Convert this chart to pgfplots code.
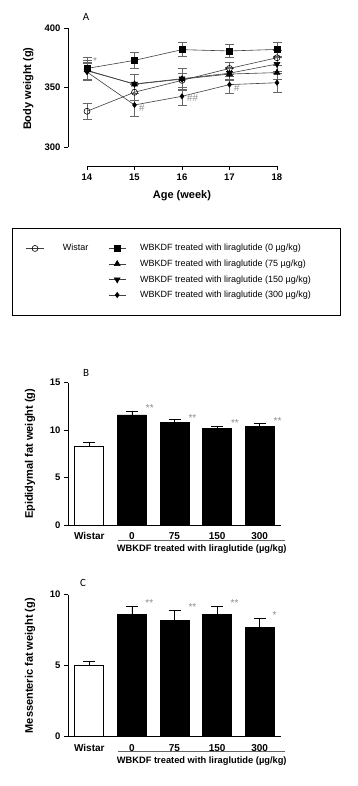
\documentclass[border=0pt]{standalone}
\usepackage{fontspec}
\setmainfont{Liberation Sans}
\newfontfamily\carlito{Carlito}
\usepackage{pgfplots}
\pgfplotsset{compat=1.18}
\definecolor{anno}{gray}{0.55}
\newcommand\lf{\fontsize{9}{10.5}\selectfont}
\begin{document}
\begin{tikzpicture}
\useasboundingbox (0,0) rectangle (357pt,-786pt);
\pgfplotsset{
 common/.style={scale only axis, axis lines*=left, tick align=outside, major tick length=4pt, clip=false,
   tick label style={font=\bfseries\fontsize{9.5}{11}\selectfont}, /pgf/number format/assume math mode=true,
   label style={font=\bfseries\fontsize{11}{13}\selectfont}, tick style={black, line width=0.8pt},
   axis line style={line width=0.9pt}},
 lineA/.style={black!75, line width=0.6pt, mark options={solid, black, fill=black},
   error bars/y dir=both, error bars/y explicit,
   error bars/error mark options={rotate=90, mark size=4.5pt, black!60, line width=0.6pt},
   error bars/error bar style={black!60, line width=0.6pt}},
 barW/.style={ybar, bar shift=0pt, bar width=29pt, fill=white, draw=black, line width=0.8pt,
   error bars/y dir=plus, error bars/y explicit,
   error bars/error mark options={rotate=90, mark size=6pt, line width=0.8pt, black},
   error bars/error bar style={line width=0.8pt, black}},
 barB/.style={ybar, bar shift=0pt, bar width=29pt, fill=black, draw=black, line width=0.8pt,
   error bars/y dir=plus, error bars/y explicit,
   error bars/error mark options={rotate=90, mark size=6pt, line width=0.8pt, black},
   error bars/error bar style={line width=0.8pt, black}},
 anno/.style={text=anno, font=\fontsize{8}{9}\selectfont},
 barax/.style={common, width=213pt, xmin=-0.5, xmax=4.5, xtick={0,...,4},
   xticklabels={Wistar,0,75,150,300}, major x tick style={draw=none},
   xticklabel style={font=\bfseries\fontsize{10}{12}\selectfont},
   ylabel style={at={(axis description cs:-0.178,0.5)}, anchor=center}},
}
% ---------------- Panel A
\begin{axis}[common, at={(68pt,-166pt)}, anchor=south west, width=209pt, height=138pt,
 xmin=13.6, xmax=18, ymin=284, ymax=400, xtick={14,...,18}, ytick={300,350,400},
 axis line style={draw=none}, xlabel={Age (week)}, ylabel={Body weight (g)},
 xlabel style={at={(axis description cs:0.545,-0.217)}, anchor=center},
 ylabel style={at={(axis description cs:-0.19,0.56)}, anchor=center},
 legend columns=2,
 legend style={draw=none, fill=none, at={(axis description cs:-0.201,-0.567)}, anchor=north west,
   inner xsep=0pt, inner ysep=0pt, font=\lf, row sep=7.5pt,
   nodes={inner sep=0pt},
   /tikz/column 1/.style={column sep=19pt}, /tikz/column 2/.style={column sep=20pt},
   /tikz/column 3/.style={column sep=14pt}},
 legend cell align=left]
\addplot[lineA, mark=o, mark size=3pt, mark options={solid, black, fill=white}] coordinates {(14,330)+-(0,6.5) (15,346)+-(0,6.5) (16,356)+-(0,6) (17,366)+-(0,5) (18,375)+-(0,6)};
\addlegendentry{\lf Wistar}
\addplot[lineA, mark=square*, mark size=3.1pt] coordinates {(14,366)+-(0,9) (15,372.8)+-(0,6.5) (16,381.8)+-(0,6) (17,380.7)+-(0,5.5) (18,382)+-(0,6)};
\addlegendentry{\lf WBKDF treated with liraglutide (0 µg/kg)}
\addlegendimage{empty legend}\addlegendentry{}
\addplot[lineA, mark=triangle*, mark size=3.4pt] coordinates {(14,364.5)+-(0,8) (15,352.7)+-(0,8) (16,357)+-(0,9) (17,361.3)+-(0,5) (18,362.5)+-(0,6)};
\addlegendentry{\lf WBKDF treated with liraglutide (75 µg/kg)}
\addlegendimage{empty legend}\addlegendentry{}
\addplot[lineA, mark=triangle*, mark size=3.4pt, mark options={solid, black, fill=black, rotate=180}] coordinates {(14,364)+-(0,7) (15,353)+-(0,8) (16,357.4)+-(0,9) (17,362)+-(0,5) (18,369.7)+-(0,6)};
\addlegendentry{\lf WBKDF treated with liraglutide (150 µg/kg)}
\addlegendimage{empty legend}\addlegendentry{}
\addplot[lineA, mark=diamond*, mark size=2.6pt] coordinates {(14,363)+-(0,7) (15,335.3)+-(0,9.5) (16,342.6)+-(0,7.7) (17,352.4)+-(0,7) (18,354)+-(0,7.7)};
\addlegendentry{\lf WBKDF treated with liraglutide (300 µg/kg)}
\draw[line width=0.9pt] (axis cs:13.6,300) -- (axis cs:13.6,400);
\draw[line width=0.9pt] (axis cs:14,284) -- (axis cs:18,284);
\node[anno] at (axis cs:14.17,372) {*};
\node[anno] at (axis cs:15.15,333) {\textit{\#}};
\node[anno] at (axis cs:16.22,341) {\textit{\#\#}};
\node[anno] at (axis cs:17.15,349.3) {\textit{\#}};
\end{axis}
\node[font=\carlito\fontsize{11}{13}\selectfont] at (86pt,-17pt) {A};
\draw[line width=0.6pt] (12pt,-228pt) rectangle (340pt,-315pt);
% ---------------- Panel B
\begin{axis}[barax, at={(68pt,-525pt)}, anchor=south west, height=142.3pt,
 ymin=0, ymax=15, ytick={0,5,10,15}, ylabel={Epididymal fat weight (g)}]
\addplot[barW] coordinates {(0,8.33)+-(0,0.35)};
\addplot[barB] coordinates {(1,11.6)+-(0,0.38) (2,10.78)+-(0,0.39) (3,10.19)+-(0,0.17) (4,10.4)+-(0,0.28)};
\node[anno] at (axis cs:1.42,12.3) {**};
\node[anno] at (axis cs:2.42,11.3) {**};
\node[anno] at (axis cs:3.42,10.7) {**};
\node[anno] at (axis cs:4.42,11.0) {**};
\draw[black!60, line width=0.8pt] ([yshift=-15pt]axis cs:0.68,0) -- ([yshift=-15pt]axis cs:4.6,0);
\node[font=\bfseries\fontsize{9.3}{11}\selectfont] at ([yshift=-24pt]axis cs:2.64,0) {WBKDF treated with liraglutide (µg/kg)};
\end{axis}
\node[font=\carlito\fontsize{11}{13}\selectfont] at (86pt,-373pt) {B};
% ---------------- Panel C
\begin{axis}[barax, at={(68pt,-736.7pt)}, anchor=south west, height=142pt,
 ymin=0, ymax=10, ytick={0,5,10}, ylabel={Messenteric fat weight (g)}]
\addplot[barW] coordinates {(0,5.0)+-(0,0.33)};
\addplot[barB] coordinates {(1,8.61)+-(0,0.59) (2,8.21)+-(0,0.69) (3,8.61)+-(0,0.59) (4,7.72)+-(0,0.59)};
\node[anno] at (axis cs:1.41,9.39) {**};
\node[anno] at (axis cs:2.42,9.1) {**};
\node[anno] at (axis cs:3.41,9.39) {**};
\node[anno] at (axis cs:4.35,8.57) {*};
\draw[black!60, line width=0.8pt] ([yshift=-15pt]axis cs:0.68,0) -- ([yshift=-15pt]axis cs:4.6,0);
\node[font=\bfseries\fontsize{9.3}{11}\selectfont] at ([yshift=-24pt]axis cs:2.64,0) {WBKDF treated with liraglutide (µg/kg)};
\end{axis}
\node[font=\carlito\fontsize{11}{13}\selectfont] at (83pt,-583pt) {C};
\end{tikzpicture}
\end{document}
